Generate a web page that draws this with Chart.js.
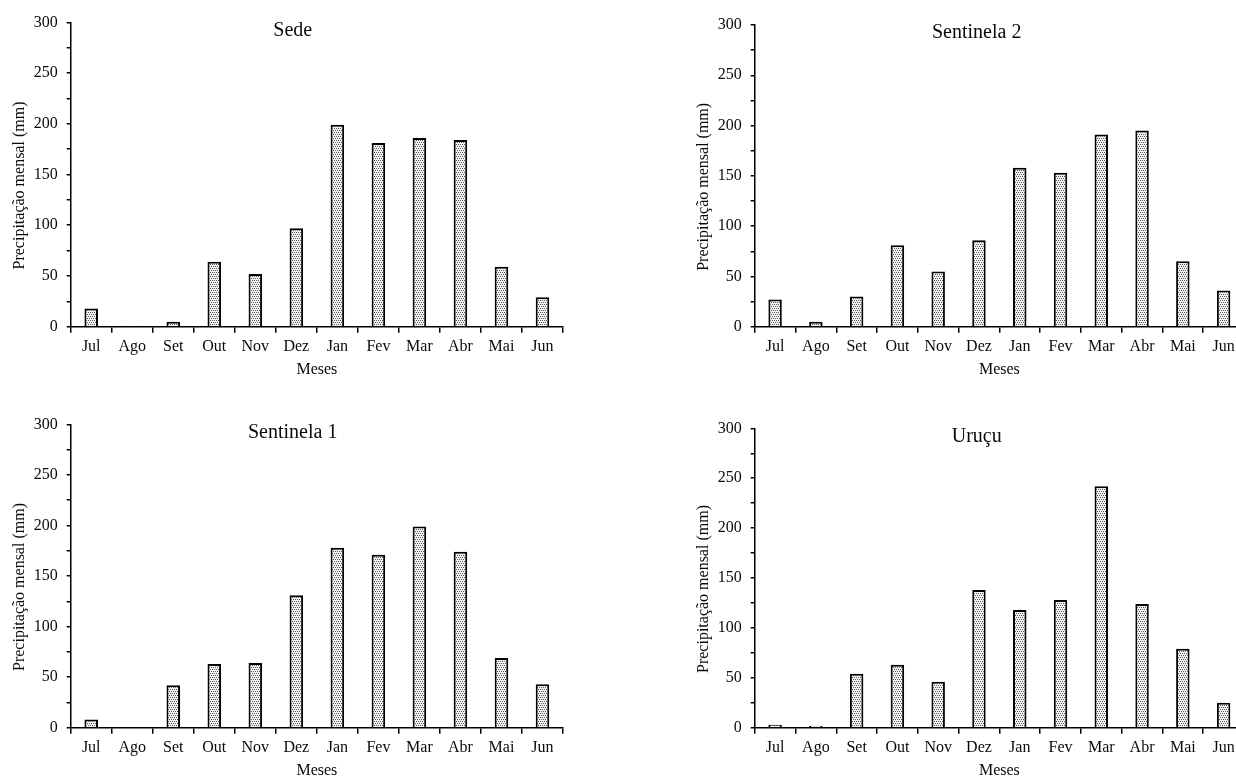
<!DOCTYPE html>
<html>
<head>
<meta charset="utf-8">
<script src="https://cdn.jsdelivr.net/npm/chart.js@4"></script>
<style>
  html, body { margin: 0; padding: 0; background: #fff; overflow: hidden; }
  body { width: 1236px; height: 776px; position: relative; }
  canvas { position: absolute; }
</style>
</head>
<body>
<canvas id="sedeChart" width="580" height="390" style="left:0;top:0"></canvas>
<canvas id="sentinela2Chart" width="580" height="390" style="left:684px;top:0"></canvas>
<canvas id="sentinela1Chart" width="580" height="390" style="left:0;top:401px"></canvas>
<canvas id="urucuChart" width="580" height="390" style="left:684px;top:401px"></canvas>
<script>
// monthly rainfall (mm), hydrological year Jul-Jun
const months = ['Jul', 'Ago', 'Set', 'Out', 'Nov', 'Dez', 'Jan', 'Fev', 'Mar', 'Abr', 'Mai', 'Jun']
const sede = [18, 1, 5, 64, 52, 97, 199, 181, 186, 184, 59, 29]
const sentinela2 = [27, 5, 30, 81, 55, 86, 158, 153, 191, 195, 65, 36]
const sentinela1 = [8, 0, 42, 63, 64, 131, 178, 171, 199, 174, 69, 43]
const urucu = [3, 2, 54, 63, 46, 138, 118, 128, 242, 124, 79, 25]
const yTicks = [0, 50, 100, 150, 200, 250, 300]

const serif = '"Liberation Serif", "Times New Roman", serif'
const ink = '#0a0a0a'

// dotted fill like the original Excel bars
function dotPattern(ctx) {
  const tile = document.createElement('canvas')
  tile.width = 4
  tile.height = 4
  const g = tile.getContext('2d')
  g.fillStyle = '#f2f2f2'
  g.fillRect(0, 0, 4, 4)
  g.fillStyle = '#5a5a5a'
  g.fillRect(0, 0, 1, 1)
  g.fillRect(2, 0, 1, 1)
  g.fillRect(1, 2, 1, 1)
  g.fillRect(3, 2, 1, 1)
  return ctx.createPattern(tile, 'repeat')
}

// panel title inside the plot area + y-axis title a bit below centre
const panelText = {
  id: 'panelText',
  afterDraw(chart, args, opts) {
    const { ctx, chartArea } = chart
    ctx.save()
    ctx.fillStyle = ink
    ctx.textAlign = 'center'
    ctx.textBaseline = 'middle'
    ctx.font = '20px ' + serif
    ctx.fillText(opts.title, chartArea.left + 222, chartArea.top + 8)
    ctx.font = '16px ' + serif
    ctx.translate(19.5, (chartArea.top + chartArea.bottom) / 2 + 11)
    ctx.rotate(-Math.PI / 2)
    ctx.fillText(opts.yTitle, 0, 0)
    ctx.restore()
  }
}

function rainChart(id, title, values, padTop, padRight) {
  const canvas = document.querySelector('#' + id)
  const ctx = canvas.getContext('2d')
  return new Chart(canvas, {
    type: 'bar',
    data: {
      labels: months,
      datasets: [{
        label: title,
        data: values,
        backgroundColor: dotPattern(ctx),
        borderColor: '#000',
        borderWidth: 2,
        borderSkipped: 'start',
        categoryPercentage: 1,
        barPercentage: 0.33
      }]
    },
    options: {
      responsive: false,
      animation: false,
      layout: { padding: { top: padTop, right: padRight, left: 0, bottom: 0 } },
      plugins: {
        legend: { display: false },
        tooltip: { enabled: false },
        panelText: { title: title, yTitle: 'Precipitação mensal (mm)' }
      },
      scales: {
        x: {
          offset: true,
          grid: { offset: true, drawOnChartArea: false, tickLength: 6, color: '#000', lineWidth: 1.5 },
          border: { color: '#000', width: 1.5 },
          ticks: { color: ink, font: { family: serif, size: 16 }, padding: 4, maxRotation: 0, autoSkip: false },
          title: { display: true, text: 'Meses', color: ink, font: { family: serif, size: 16 }, padding: { bottom: 11 } },
          afterFit(scale) { scale.height = 63.3 }
        },
        y: {
          min: 0,
          max: 300,
          grid: { drawOnChartArea: false, tickLength: 4, color: '#000', lineWidth: 1.5 },
          border: { color: '#000', width: 1.5 },
          ticks: {
            stepSize: 25,
            color: ink,
            font: { family: serif, size: 16 },
            padding: 9,
            callback: v => yTicks.includes(v) ? v : ''
          },
          afterFit(scale) { scale.width = 70.7 }
        }
      }
    },
    plugins: [panelText]
  })
}

rainChart('sedeChart', 'Sede', sede, 22.3, 17)
rainChart('sentinela2Chart', 'Sentinela 2', sentinela2, 25, 20)
rainChart('sentinela1Chart', 'Sentinela 1', sentinela1, 23.3, 17)
rainChart('urucuChart', 'Uruçu', urucu, 27.3, 20)
</script>
</body>
</html>
